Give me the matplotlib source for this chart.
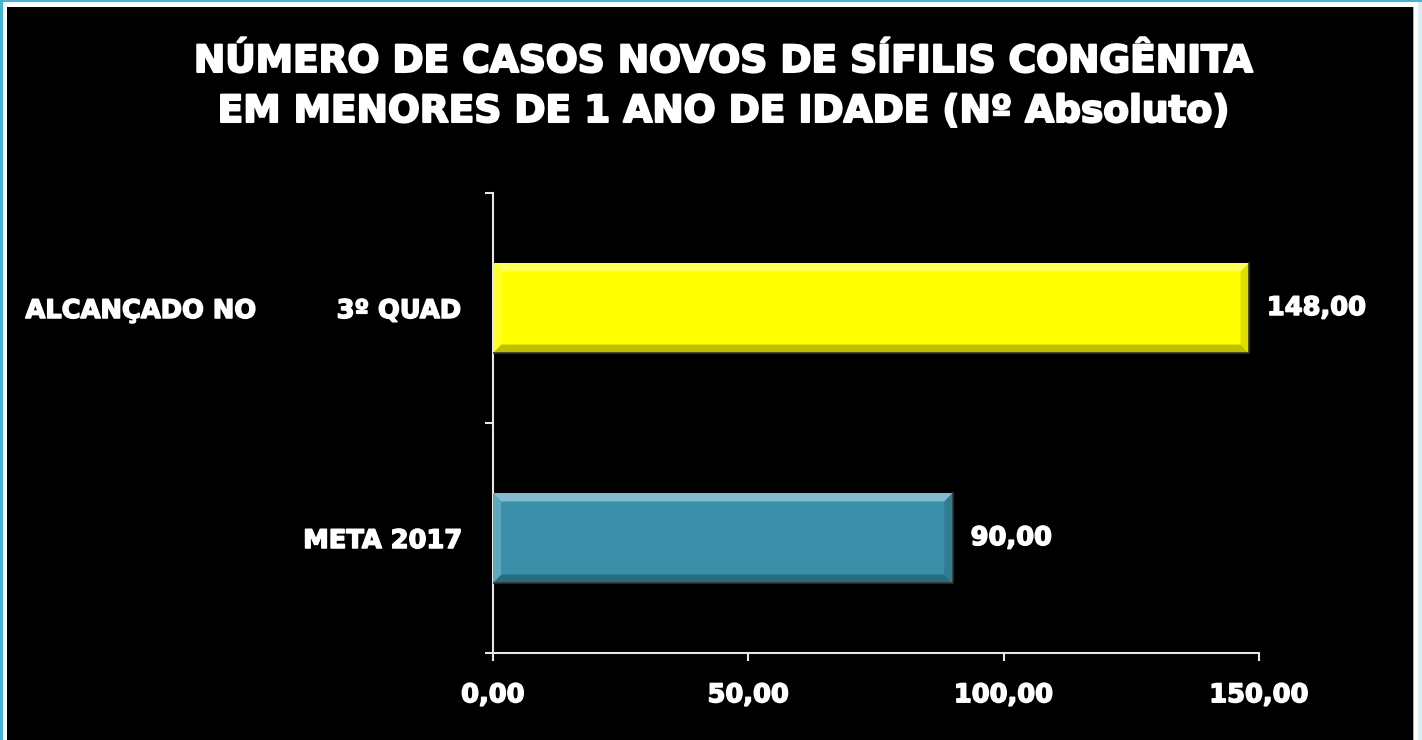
import matplotlib.pyplot as plt
from matplotlib.patches import Rectangle, Polygon
from matplotlib.ticker import FuncFormatter
import matplotlib.colors as mcolors
import matplotlib.patheffects as pe

categorias = ['META 2017', 'ALCANÇADO NO         3º QUAD']
valores = [90.00, 148.00]
cores = ['#3a8ea8', '#ffff00']
xticks = [0, 50, 100, 150]
titulo = 'NÚMERO DE CASOS NOVOS DE SÍFILIS CONGÊNITA\nEM MENORES DE 1 ANO DE IDADE (Nº Absoluto)'

W, H = 1422, 740
plt.rcParams['font.family'] = 'DejaVu Sans'
plt.rcParams['font.weight'] = 'bold'
grosso = [pe.withStroke(linewidth=1.1, foreground='white')]

fig = plt.figure(figsize=(W / 100, H / 100), dpi=100)
fig.patch.set_facecolor('#dcedf3')

# moldura: faixa ciano, borda branca e fundo preto
def px_rect(x0, y0, x1, y1, color):
    fig.add_artist(Rectangle((x0 / W, 1 - y1 / H), (x1 - x0) / W, (y1 - y0) / H,
                             transform=fig.transFigure, color=color, lw=0, zorder=-10))

px_rect(0, 0, W, 2, '#4ab3cf')
px_rect(0, 0, 3, H, '#4ab3cf')
px_rect(3, 2, 1418, H, '#ffffff')
px_rect(7, 7, 1414, H, '#b0b0b0')
px_rect(7, 7, 1413, H, '#000000')

ax = fig.add_axes([493 / W, 1 - 653 / H, 766 / W, 460 / H])
ax.set_facecolor('none')

pos = list(range(len(categorias)))
bars = ax.barh(pos, valores, height=0.39, color=cores, zorder=2)

ax.set_xlim(0, 150)
ax.set_ylim(-0.5, len(categorias) - 0.5)

# chanfro nas barras
bx, by = 1.6, 0.036
for b, c in zip(bars, cores):
    x0, y0 = b.get_x(), b.get_y()
    x1, y1 = x0 + b.get_width(), y0 + b.get_height()
    rgb = mcolors.to_rgb(c)
    light = [min(1, v + 0.3 * (1 - v) + 0.05) for v in rgb]
    lightl = [min(1, v + 0.15 * (1 - v) + 0.03) for v in rgb]
    dark = [v * 0.75 for v in rgb]
    darkr = [v * 0.87 for v in rgb]
    faces = [
        ([(x0, y1), (x1, y1), (x1 - bx, y1 - by), (x0 + bx, y1 - by)], light),
        ([(x0, y0), (x1, y0), (x1 - bx, y0 + by), (x0 + bx, y0 + by)], dark),
        ([(x0, y0), (x0, y1), (x0 + bx, y1 - by), (x0 + bx, y0 + by)], lightl),
        ([(x1, y0), (x1, y1), (x1 - bx, y1 - by), (x1 - bx, y0 + by)], darkr),
    ]
    for pts, col in faces:
        ax.add_patch(Polygon(pts, closed=True, color=col, lw=0, zorder=3))
    ax.plot([x0, x1, x1], [y0, y0, y1], color='#333333', lw=1.2, zorder=4)

    ax.annotate(f'{b.get_width():.2f}'.replace('.', ','), xy=(x1, y0 + b.get_height() / 2),
                xytext=(13, 0), textcoords='offset points', ha='left', va='center',
                color='white', fontsize=18.5, fontweight='bold', path_effects=grosso)

# eixo y: marcas nos limites das categorias, rótulos no centro
ax.set_yticks([-0.5, 0.5, 1.5])
ax.set_yticklabels([])
ax.set_yticks(pos, minor=True)
ax.set_yticklabels(categorias, minor=True)
ax.tick_params(axis='y', which='major', direction='out', length=6, width=1.5, color='#e6e6e6')
ax.tick_params(axis='y', which='minor', length=0, pad=22, labelsize=18.5, labelcolor='white')

ax.set_xticks(xticks)
ax.xaxis.set_major_formatter(FuncFormatter(lambda v, p: f'{v:.2f}'.replace('.', ',')))
ax.tick_params(axis='x', direction='out', length=6, width=1.5, color='#e6e6e6',
               pad=15, labelsize=18.5, labelcolor='white')

for lbl in ax.get_xticklabels() + ax.get_yticklabels(minor=True):
    lbl.set_path_effects(grosso)

for s in ['top', 'right']:
    ax.spines[s].set_visible(False)
for s in ['left', 'bottom']:
    ax.spines[s].set_color('#e6e6e6')
    ax.spines[s].set_linewidth(1.5)

fig.text(724 / W, 1 - 44 / H, titulo, ha='center', va='top', color='white',
         fontsize=27, fontweight='bold', linespacing=1.5,
         path_effects=[pe.withStroke(linewidth=1.5, foreground='white')])

fig.savefig('out.png', dpi=100, facecolor=fig.get_facecolor())
